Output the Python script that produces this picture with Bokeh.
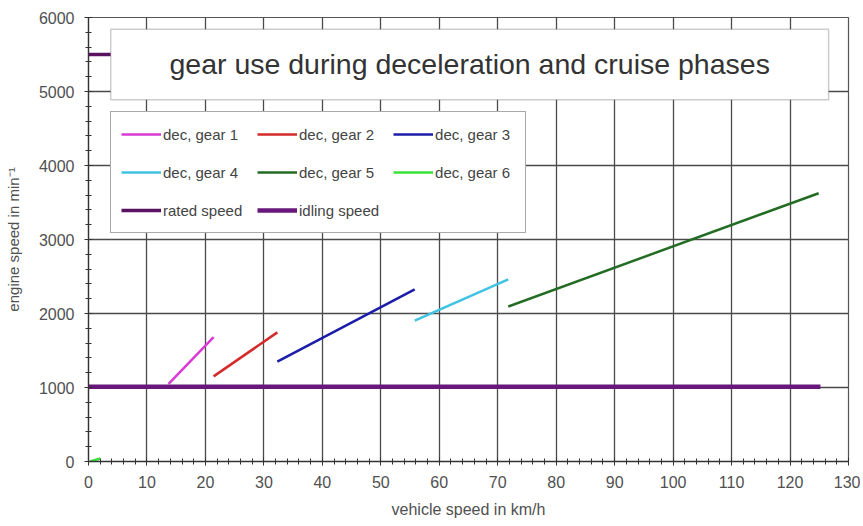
from bokeh.plotting import figure
from bokeh.models import (Legend, LegendItem, BoxAnnotation, Label,
                          SingleIntervalTicker, Range1d)
from bokeh.embed import file_html
from bokeh.resources import INLINE

# ---- data ----
series_names = ["dec, gear 1", "dec, gear 2", "dec, gear 3",
                "dec, gear 4", "dec, gear 5", "dec, gear 6",
                "rated speed", "idling speed"]
gear1_kmh = [13.7, 21.4]
gear1_rpm = [1050, 1680]
gear2_kmh = [21.4, 32.3]
gear2_rpm = [1150, 1745]
gear3_kmh = [32.3, 55.8]
gear3_rpm = [1350, 2325]
gear4_kmh = [55.8, 71.8]
gear4_rpm = [1905, 2460]
gear5_kmh = [71.8, 124.9]
gear5_rpm = [2095, 3625]
gear6_kmh = [0.3, 2.0]
gear6_rpm = [0, 40]
rated_kmh = [0, 125.2]
rated_rpm = [5500, 5500]
idling_kmh = [0, 125.2]
idling_rpm = [1010, 1010]

title_text = "gear use during deceleration and cruise phases"
x_label = "vehicle speed in km/h"
y_label = "engine speed in min\u207b\u00b9"

FONT = "Liberation Sans"
TXT = "#505050"
GRID = "#4a4a4a"

W, H = 860, 524
p = figure(width=W, height=H, output_backend="svg", toolbar_location=None,
           x_range=Range1d(0, 130), y_range=Range1d(0, 6000),
           min_border_left=88, min_border_right=W - 848, min_border_top=17,
           min_border_bottom=H - 461)
p.background_fill_color = "white"
p.border_fill_color = "white"
p.outline_line_color = "#555555"
p.outline_line_width = 1.2

p.xaxis.ticker = SingleIntervalTicker(interval=10, num_minor_ticks=5)
p.yaxis.ticker = SingleIntervalTicker(interval=1000, num_minor_ticks=5)
p.xgrid.grid_line_color = GRID
p.ygrid.grid_line_color = GRID
p.xgrid.grid_line_width = 1.3
p.ygrid.grid_line_width = 1.3

for ax in (p.xaxis[0], p.yaxis[0]):
    ax.axis_line_color = "#333333"
    ax.axis_line_width = 1.3
    ax.major_tick_line_color = "#333333"
    ax.minor_tick_line_color = "#333333"
    ax.major_tick_in = 4
    ax.major_tick_out = 4
    ax.minor_tick_in = 3
    ax.minor_tick_out = 3
    ax.major_label_text_font = FONT
    ax.major_label_text_font_size = "16px"
    ax.major_label_text_color = TXT
    ax.axis_label_text_font = FONT
    ax.axis_label_text_font_style = "normal"
    ax.axis_label_text_color = TXT

p.xaxis.axis_label_text_font_size = "16px"
p.yaxis.axis_label_text_font_size = "15px"
p.xaxis.major_label_standoff = 10
p.yaxis.major_label_standoff = 10
p.xaxis.axis_label = x_label
p.yaxis.axis_label = y_label
p.xaxis.axis_label_standoff = 10
p.yaxis.axis_label_standoff = 14

lines = [
    (gear1_kmh, gear1_rpm, "#d93ad6", 2.5),
    (gear2_kmh, gear2_rpm, "#d42a2a", 2.5),
    (gear3_kmh, gear3_rpm, "#1c1caa", 2.5),
    (gear4_kmh, gear4_rpm, "#3fc3e3", 2.5),
    (gear5_kmh, gear5_rpm, "#236c23", 2.5),
    (gear6_kmh, gear6_rpm, "#3ae03a", 2.5),
    (rated_kmh, rated_rpm, "#5a1260", 3.5),
    (idling_kmh, idling_rpm, "#67187a", 4.5),
]
renderers = []
for xs, ys, col, w in lines:
    r = p.line(xs, ys, line_color=col, line_width=w)
    renderers.append(r)

items = [LegendItem(label=n, renderers=[r]) for n, r in zip(series_names, renderers)]
legend = Legend(items=items, location=(22, 228), orientation="horizontal", ncols=3,
                label_text_font=FONT, label_text_font_size="15px",
                label_text_color="#444444",
                glyph_width=40, glyph_height=24, label_height=24,
                label_width=80, label_standoff=2, spacing=14, padding=10,
                border_line_color="#555555", border_line_width=1.3,
                background_fill_color="white", background_fill_alpha=1.0,
                margin=0)
p.add_layout(legend, "center")

# title box drawn inside the plot
box = BoxAnnotation(left=3.8, right=126.6, bottom=4890, top=5840,
                    fill_color="white", fill_alpha=1.0,
                    line_color="#555555", line_width=1.5)
p.add_layout(box)
title = Label(x=65.2, y=5365, text=title_text, text_align="center",
              text_baseline="middle", text_font=FONT, text_font_size="28.5px",
              text_color="#333333")
p.add_layout(title)

open("out.html", "w").write(file_html(p, INLINE))
